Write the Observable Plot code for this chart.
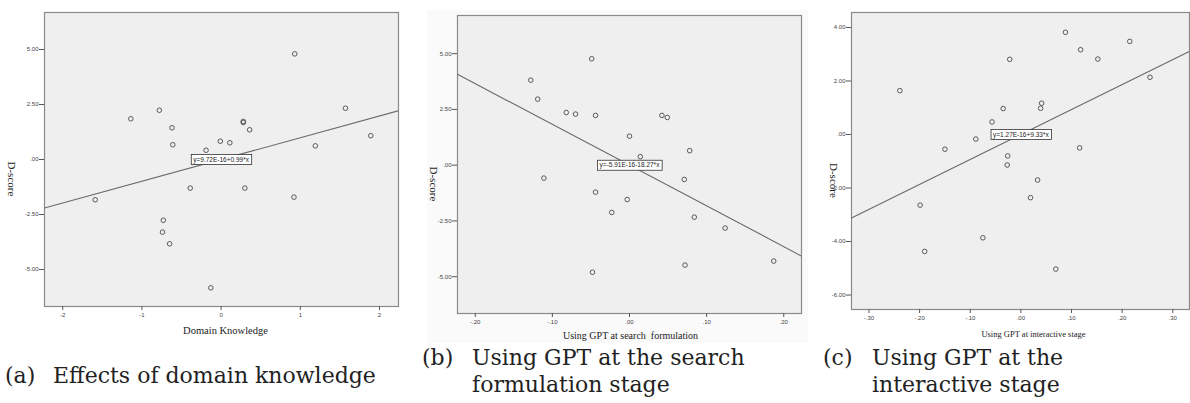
<!DOCTYPE html>
<html><head><meta charset="utf-8">
<script src="https://cdn.jsdelivr.net/npm/d3@7"></script>
<script src="https://cdn.jsdelivr.net/npm/@observablehq/plot@0.6"></script>
<style>
body{margin:0;background:#fff;}
#root{position:relative;width:1190px;height:403px;overflow:hidden;background:#fff;}
.panel{position:absolute;top:0;}
.cap{position:absolute;font-family:"DejaVu Serif";font-size:22px;line-height:27px;color:#222;white-space:nowrap;}
.bgb{position:absolute;left:427px;top:10px;width:381px;height:333px;background:#fafafa;}
</style></head>
<body><div id="root"><div class="bgb"></div></div>
<script>
// ---- Panel (a): Domain Knowledge ----
const knowledgeX = [0.93,-0.78,-1.14,1.57,-0.62,0.28,0.28,0.36,-0.61,-0.01,0.11,-0.19,1.19,1.89,-0.39,0.30,0.92,-1.59,-0.73,-0.74,-0.65,-0.13];
const knowledgeD = [4.80,2.24,1.85,2.33,1.44,1.73,1.68,1.35,0.67,0.83,0.76,0.42,0.62,1.08,-1.30,-1.30,-1.71,-1.83,-2.76,-3.30,-3.83,-5.83];
const aXTicks = [-2,-1,0,1,2];
const aXTickLabels = ["-2","-1","0","1","2"];
const aYTicks = [5,2.5,0,-2.5,-5];
const aYTickLabels = ["5.00","2.50",".00","-2.50","-5.00"];
const aFit = [9.72e-16, 0.99];
const aEquation = "y=9.72E-16+0.99*x";
const aXLabel = "Domain Knowledge";

// ---- Panel (b): GPT at search formulation ----
const searchX = [-0.049,-0.128,-0.119,-0.082,-0.070,-0.044,0.042,0.049,0.000,0.078,0.014,-0.111,0.071,-0.044,-0.003,-0.023,0.084,0.124,0.187,0.072,-0.048];
const searchD = [4.77,3.81,2.96,2.36,2.29,2.23,2.23,2.14,1.30,0.65,0.38,-0.58,-0.64,-1.21,-1.54,-2.12,-2.33,-2.82,-4.30,-4.48,-4.80];
const bXTicks = [-0.2,-0.1,0,0.1,0.2];
const bXTickLabels = ["-.20","-.10",".00",".10",".20"];
const bYTicks = [5,2.5,0,-2.5,-5];
const bYTickLabels = ["5.00","2.50",".00","-2.50","-5.00"];
const bFit = [-5.91e-16, -18.27];
const bEquation = "y=-5.91E-16-18.27*x";
const bXLabel = "Using GPT at search\u00a0 formulation";

// ---- Panel (c): GPT at interactive stage ----
const interactX = [0.088,0.215,0.118,-0.022,0.152,0.255,-0.239,0.041,0.039,-0.035,-0.057,-0.089,-0.150,0.116,-0.026,-0.027,0.033,0.019,-0.199,-0.075,-0.190,0.069];
const interactD = [3.82,3.48,3.17,2.81,2.82,2.14,1.64,1.17,0.98,0.97,0.47,-0.17,-0.55,-0.50,-0.80,-1.14,-1.70,-2.36,-2.64,-3.86,-4.37,-5.03];
const cXTicks = [-0.3,-0.2,-0.1,0,0.1,0.2,0.3];
const cXTickLabels = ["-.30","-.20","-.10",".00",".10",".20",".30"];
const cYTicks = [4,2,0,-2,-4,-6];
const cYTickLabels = ["4.00","2.00",".00","-2.00","-4.00","-6.00"];
const cFit = [1.27e-16, 9.33];
const cEquation = "y=1.27E-16+9.33*x";
const cXLabel = "Using GPT at interactive stage";

const yLabel = "D-score";

const root = document.getElementById("root");

function panel(cfg) {
  const pts = cfg.xs.map((x, i) => ({x, y: cfg.ys[i]}));
  const fitPts = cfg.xDomain.map(x => ({x, y: cfg.fit[0] + cfg.fit[1] * x}));
  const xMap = new Map(cfg.xTicks.map((t, i) => [t, cfg.xTickLabels[i]]));
  const yMap = new Map(cfg.yTicks.map((t, i) => [t, cfg.yTickLabels[i]]));
  const svg = Plot.plot({
    width: cfg.width, height: cfg.height,
    marginLeft: cfg.ml, marginRight: cfg.mr, marginTop: cfg.mt, marginBottom: cfg.mb,
    x: {domain: cfg.xDomain, axis: null},
    y: {domain: cfg.yDomain, axis: null},
    style: {background: "transparent", overflow: "visible", fontFamily: "Liberation Sans"},
    marks: [
      Plot.frame({fill: "#efefef", stroke: "#8a8a8a", strokeWidth: 1.2}),
      Plot.axisX({ticks: cfg.xTicks, tickFormat: d => xMap.get(d), tickSize: 4, tickPadding: 2, fontSize: 6, stroke: "#555", fill: "#444", label: null}),
      Plot.axisY({ticks: cfg.yTicks, tickFormat: d => yMap.get(d), tickSize: 5, tickPadding: 1, fontSize: 6, stroke: "#555", fill: "#444", label: null}),
      Plot.line(fitPts, {x: "x", y: "y", stroke: "#6a6a6a", strokeWidth: 1.1, clip: true}),
      Plot.dot(pts, {x: "x", y: "y", r: 2.3, stroke: "#4a4a4a", strokeWidth: 0.9, fill: "none"}),
      Plot.text([cfg.eq], {x: () => 0, y: () => 0, text: d => d, fontSize: 6.5, fill: "#222", fontFamily: "Liberation Sans"}),
      Plot.text([yLabel], {frameAnchor: "left", dx: cfg.ylabDx, dy: 2, rotate: 90, text: d => d, fontSize: 11, fill: "#222", fontFamily: "Liberation Serif"}),
      Plot.text([cfg.xLabel], {frameAnchor: "bottom", dx: cfg.xlabDx, dy: cfg.xlabDy, lineAnchor: "middle", text: d => d, fontSize: cfg.xlabSize, fill: "#222", fontFamily: "Liberation Serif"})
    ]
  });
  const wrap = document.createElement("div");
  wrap.className = "panel";
  wrap.style.left = cfg.left + "px";
  wrap.appendChild(svg);
  root.appendChild(wrap);
  // white box behind the equation label
  const texts = svg.querySelectorAll("text");
  for (const t of texts) {
    if (t.textContent === cfg.eq) {
      const bb = t.getBBox();
      const r = document.createElementNS("http://www.w3.org/2000/svg", "rect");
      r.setAttribute("x", bb.x - 2);
      r.setAttribute("y", bb.y - 1);
      r.setAttribute("width", bb.width + 4);
      r.setAttribute("height", bb.height + 2);
      r.setAttribute("fill", "#fff");
      r.setAttribute("stroke", "#333");
      r.setAttribute("stroke-width", 0.8);
      if (t.getAttribute("transform")) r.setAttribute("transform", t.getAttribute("transform"));
      t.parentNode.insertBefore(r, t);
    }
  }
}

panel({left: 0, width: 400, height: 345, ml: 44, mr: 2, mt: 12, mb: 39,
  xDomain: [-2.23, 2.24], yDomain: [-6.68, 6.68],
  xs: knowledgeX, ys: knowledgeD, fit: aFit, eq: aEquation,
  xTicks: aXTicks, xTickLabels: aXTickLabels, yTicks: aYTicks, yTickLabels: aYTickLabels,
  xLabel: aXLabel, ylabDx: -33, xlabDx: 4, xlabDy: 24, xlabSize: 10.5});

panel({left: 400, width: 410, height: 345, ml: 57, mr: 9, mt: 15, mb: 32,
  xDomain: [-0.223, 0.223], yDomain: [-6.65, 6.71],
  xs: searchX, ys: searchD, fit: bFit, eq: bEquation,
  xTicks: bXTicks, xTickLabels: bXTickLabels, yTicks: bYTicks, yTickLabels: bYTickLabels,
  xLabel: bXLabel, ylabDx: -24, xlabDx: 1, xlabDy: 22, xlabSize: 10});

panel({left: 800, width: 390, height: 345, ml: 51, mr: 1, mt: 12, mb: 36,
  xDomain: [-0.3345, 0.333], yDomain: [-6.54, 4.56],
  xs: interactX, ys: interactD, fit: cFit, eq: cEquation,
  xTicks: cXTicks, xTickLabels: cXTickLabels, yTicks: cYTicks, yTickLabels: cYTickLabels,
  xLabel: cXLabel, ylabDx: -18, xlabDx: 13, xlabDy: 25, xlabSize: 8.5});

// captions
const captions = [
  {label: "(a)", lines: ["Effects of domain knowledge"], left: 5, textLeft: 53, top: 362},
  {label: "(b)", lines: ["Using GPT at the search", "formulation stage"], left: 422, textLeft: 472, top: 344},
  {label: "(c)", lines: ["Using GPT at the", "interactive stage"], left: 823, textLeft: 872, top: 344}
];
for (const c of captions) {
  const l = document.createElement("div");
  l.className = "cap"; l.style.left = c.left + "px"; l.style.top = c.top + "px";
  l.textContent = c.label;
  root.appendChild(l);
  const t = document.createElement("div");
  t.className = "cap"; t.style.left = c.textLeft + "px"; t.style.top = c.top + "px";
  t.innerHTML = c.lines.join("<br>");
  root.appendChild(t);
}
</script>
</body></html>
